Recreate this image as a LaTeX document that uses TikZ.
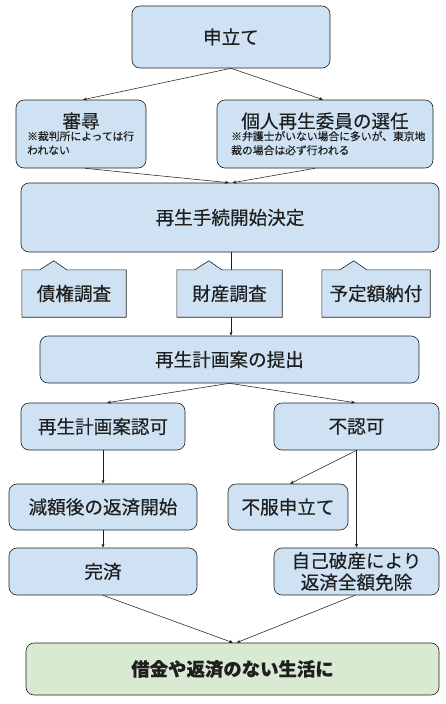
\documentclass[tikz,border=0pt]{standalone}
\usepackage{fontspec}
\setmainfont{Noto Sans CJK JP}[FakeBold=0.35]
\usetikzlibrary{arrows.meta,backgrounds}
\definecolor{bx}{HTML}{CFE2F3}
\definecolor{gr}{HTML}{D9EAD3}
\definecolor{ink}{HTML}{1F1F1F}
\begin{document}
\begin{tikzpicture}[x=1pt,y=-1pt,
  box/.style={draw=ink, fill=bx, rounded corners=8pt, line width=0.6pt, inner sep=0pt,
              font=\fontsize{18.6}{22}\selectfont, text=ink},
  gbox/.style={box, fill=gr, font=\fontsize{18.4}{22}\selectfont\bfseries},
  callout/.style={inner sep=0pt, font=\fontsize{18.6}{22}\selectfont, text=ink},
  title/.style={inner sep=0pt, font=\fontsize{18.6}{22}\selectfont, text=ink},
  note/.style={inner sep=0pt, align=left, font=\fontsize{10.8}{14}\selectfont, text=ink},
  arr/.style={-{Stealth[length=4pt,width=3.2pt]}, line width=0.55pt, draw=ink},
  calloutshape/.style={draw=ink, fill=bx, line width=0.6pt},
]
\useasboundingbox (0,0) rectangle (446,704);

% main boxes
\node[box, minimum width=198pt, minimum height=62pt] (mt) at (231,37) {申立て};
\node[box, minimum width=130pt, minimum height=68pt] (sj) at (81,134) {};
\node[box, minimum width=216pt, minimum height=68pt] (sn) at (325,134) {};
\node[title] (sjt) at (81,121) {審尋};
\node[note, anchor=north west] (sjn) at (27,131) {※裁判所によっては行\\われない};
\node[title] (snt) at (325,121) {個人再生委員の選任};
\node[note, anchor=north west] (snn) at (231,131) {※弁護士がいない場合に多いが、東京地\\裁の場合は必ず行われる};

\node[box, minimum width=418pt, minimum height=69pt] (kd) at (230,217.5) {再生手続開始決定};

% callouts (text nodes; shapes drawn on background)
\node[callout, minimum width=104pt, minimum height=47pt] (c1) at (74,293.5) {債権調査};
\node[callout, minimum width=105pt, minimum height=47pt] (c2) at (229.5,293.5) {財産調査};
\node[callout, minimum width=108pt, minimum height=47pt] (c3) at (376,293.5) {予定額納付};

\node[box, minimum width=379pt, minimum height=47pt] (tk) at (229.5,359.5) {再生計画案の提出};
\node[box, minimum width=164pt, minimum height=47pt] (nk) at (103,426.5) {再生計画案認可};
\node[box, minimum width=165pt, minimum height=47pt] (fn) at (356.5,426.5) {不認可};
\node[box, minimum width=188pt, minimum height=46pt] (gh) at (103,507) {減額後の返済開始};
\node[box, minimum width=120pt, minimum height=46pt] (ff) at (288,507) {不服申立て};
\node[box, minimum width=188pt, minimum height=47pt] (ks) at (103,571.5) {完済};
\node[box, minimum width=165pt, minimum height=47pt, align=center,
      font=\fontsize{18.6}{21.5}\selectfont] (jh) at (356.5,571.5) {自己破産により\\返済全額免除};
\node[gbox, minimum width=413pt, minimum height=52pt] (sk) at (232.5,669) {借金や返済のない生活に};

\begin{scope}[on background layer]
  \draw[arr] ([xshift=1pt]kd.south) -- ([xshift=1.5pt]tk.north);
  \foreach \n in {c1,c2,c3} {
    \draw[calloutshape] (\n.south west) -- (\n.north west)
      -- ([xshift=18pt]\n.north west) -- ([xshift=32pt,yshift=9pt]\n.north west)
      -- ([xshift=45pt]\n.north west) -- (\n.north east) -- (\n.south east) -- cycle;
  }
\end{scope}

% connectors
\draw[arr] (mt.south) -- ([xshift=2pt]sj.north);
\draw[arr] (mt.south) -- ([xshift=-2pt]sn.north);
\draw[arr] ([xshift=4pt]sj.south) -- ([xshift=-1pt]kd.north);
\draw[arr] ([xshift=-10pt]sn.south) -- ([xshift=2.5pt]kd.north);
\draw[arr] (tk.south) -- ([xshift=4pt]nk.north);
\draw[arr] (tk.south) -- ([xshift=-1.5pt]fn.north);
\draw[arr] (nk.south) -- (gh.north);
\draw[arr] (fn.south) -- ([xshift=2pt]ff.north);
\draw[arr] (fn.south) -- (jh.north);
\draw[arr] (gh.south) -- (ks.north);
\draw[arr] (ks.south) -- ([xshift=0.5pt]sk.north);
\draw[arr] ([xshift=-1.5pt]jh.south) -- ([xshift=4pt]sk.north);
\end{tikzpicture}
\end{document}
